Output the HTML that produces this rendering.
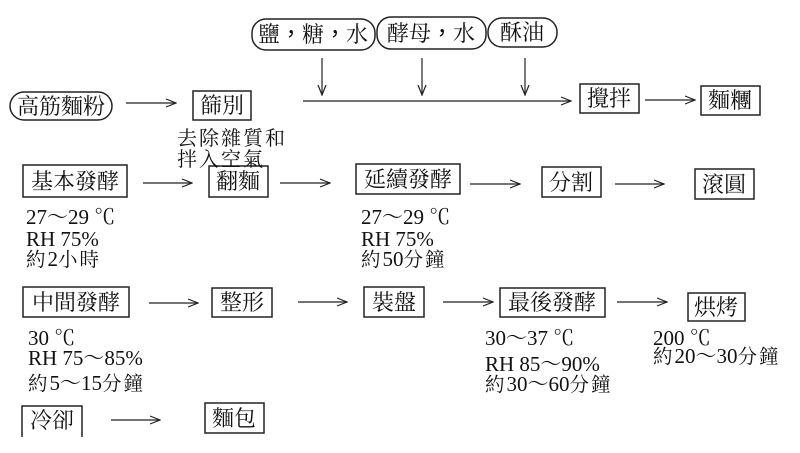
<!DOCTYPE html>
<html><head><meta charset="utf-8"><style>
html,body{margin:0;padding:0;background:#fff;}
svg{display:block;}
text{font-family:"Liberation Serif","Noto Serif CJK SC",serif;fill:#111;}
.c{font-size:19.5px;letter-spacing:2px;}
.p{font-family:"Noto Sans CJK TC",sans-serif;}
</style></head><body>
<svg width="800" height="453" viewBox="0 0 800 453" xmlns="http://www.w3.org/2000/svg">
<defs>
<marker id="ah" markerWidth="12" markerHeight="10" refX="11" refY="5" orient="auto" markerUnits="userSpaceOnUse">
<path d="M1,1 L11,5 L1,9" fill="none" stroke="#222" stroke-width="1.2"/>
</marker>
</defs>
<g fill="none" stroke="#222" stroke-width="1.5">
<rect x="10" y="92" width="102" height="28" rx="14"/>
<rect x="252" y="19" width="123" height="31" rx="14"/>
<rect x="377" y="17" width="109" height="32" rx="14"/>
<rect x="488" y="18" width="69" height="29" rx="14"/>
<rect x="193" y="91" width="58" height="29"/>
<rect x="580" y="84" width="59" height="29"/>
<rect x="701" y="86" width="59" height="29"/>
<rect x="23" y="165" width="104" height="32"/>
<rect x="209" y="166" width="59" height="31"/>
<rect x="356" y="164" width="104" height="30"/>
<rect x="542" y="167" width="59" height="30"/>
<rect x="695" y="169" width="59" height="30"/>
<rect x="23" y="287" width="106" height="30"/>
<rect x="212" y="288" width="60" height="29"/>
<rect x="364" y="287" width="60" height="30"/>
<rect x="500" y="288" width="105" height="29"/>
<rect x="688" y="293" width="57" height="28"/>
<path d="M22,437 L22,406 L82,406 L82,437"/>
<rect x="205" y="403" width="59" height="30"/>
</g>
<g fill="none" stroke="#222" stroke-width="1.2" marker-end="url(#ah)">
<line x1="126" y1="103" x2="176" y2="103"/>
<line x1="303" y1="101" x2="571" y2="101"/>
<line x1="645" y1="100" x2="695" y2="100"/>
<line x1="322" y1="58" x2="322" y2="95"/>
<line x1="422" y1="58" x2="422" y2="95"/>
<line x1="525" y1="58" x2="525" y2="95"/>
<line x1="143" y1="183" x2="192" y2="183"/>
<line x1="280" y1="183" x2="330" y2="183"/>
<line x1="470" y1="184" x2="520" y2="184"/>
<line x1="615" y1="184" x2="664" y2="184"/>
<line x1="149" y1="303" x2="198" y2="303"/>
<line x1="298" y1="302" x2="347" y2="302"/>
<line x1="443" y1="302" x2="493" y2="302"/>
<line x1="617" y1="302" x2="667" y2="302"/>
<line x1="111" y1="420" x2="160" y2="420"/>
</g>
<g font-size="22" text-anchor="middle">
<text x="61" y="114">高筋麵粉</text>
<text x="313" y="42">鹽<tspan class="p">，</tspan>糖<tspan class="p">，</tspan>水</text>
<text x="431" y="41">酵母<tspan class="p">，</tspan>水</text>
<text x="522" y="40">酥油</text>
<text x="222" y="113">篩別</text>
<text x="609" y="106">攪拌</text>
<text x="730" y="108">麵糰</text>
<text x="75" y="189">基本發酵</text>
<text x="238" y="189">翻麵</text>
<text x="408" y="187">延續發酵</text>
<text x="571" y="190">分割</text>
<text x="724" y="192">滾圓</text>
<text x="76" y="310">中間發酵</text>
<text x="242" y="310">整形</text>
<text x="394" y="310">裝盤</text>
<text x="552" y="310">最後發酵</text>
<text x="716" y="315">烘烤</text>
<text x="52" y="428">冷卻</text>
<text x="234" y="426">麵包</text>
</g>
<g font-size="21">
<text x="177" y="145" font-size="20" letter-spacing="2">去除雜質和</text>
<text x="177" y="166" font-size="20" letter-spacing="2">拌入空氣</text>
<text x="26" y="224">27～29 ℃</text>
<text x="26" y="246">RH 75%</text>
<text x="26" y="266"><tspan class="c">約</tspan>2<tspan class="c">小時</tspan></text>
<text x="361" y="224">27～29 ℃</text>
<text x="361" y="246">RH 75%</text>
<text x="361" y="266"><tspan class="c">約</tspan>50<tspan class="c">分鐘</tspan></text>
<text x="28" y="345">30 ℃</text>
<text x="28" y="365">RH 75～85%</text>
<text x="28" y="390"><tspan class="c">約</tspan>5～15<tspan class="c">分鐘</tspan></text>
<text x="485" y="345">30～37 ℃</text>
<text x="485" y="371">RH 85～90%</text>
<text x="485" y="391"><tspan class="c">約</tspan>30～60<tspan class="c">分鐘</tspan></text>
<text x="653" y="345">200 ℃</text>
<text x="653" y="363"><tspan class="c">約</tspan>20～30<tspan class="c">分鐘</tspan></text>
</g>
</svg>
</body></html>
